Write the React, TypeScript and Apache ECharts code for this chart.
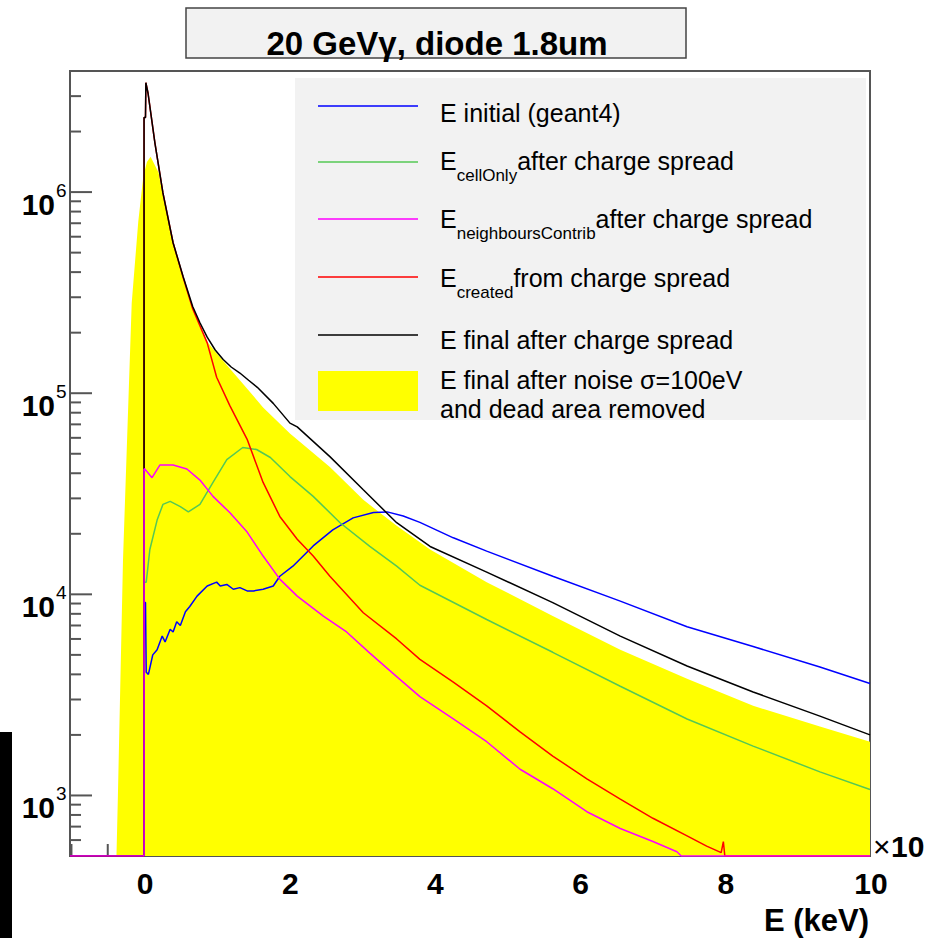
import React, { useEffect, useRef } from "react";
import * as echarts from "echarts";

// ---- axis ranges ----
const X_MIN = -1.02;
const X_MAX = 10;
const Y_MIN = 500;
const Y_MAX = 4e6;

// ---- tick values / labels ----
const xMajorTicks = [0, 2, 4, 6, 8, 10];
const xTickLabels = ["0", "2", "4", "6", "8", "10"];
const xMinorTicks = [-1, -0.5, 0.5, 1, 1.5, 2.5, 3, 3.5, 4.5, 5, 5.5, 6.5, 7, 7.5, 8.5, 9, 9.5];
const yMajorTicks = [1e3, 1e4, 1e5, 1e6];
const yTickExponents = ["3", "4", "5", "6"];
const yMinorTicks = [
  600, 700, 800, 900,
  2000, 3000, 4000, 5000, 6000, 7000, 8000, 9000,
  20000, 30000, 40000, 50000, 60000, 70000, 80000, 90000,
  200000, 300000, 400000, 500000, 600000, 700000, 800000, 900000,
  2000000, 3000000,
];

// ---- series data (x in axis units, y in counts) ----
const blueX = [-1.02, 0, 0, 0.02, 0.03, 0.06, 0.12, 0.18, 0.25, 0.29, 0.36, 0.4, 0.45, 0.5, 0.57, 0.63, 0.73, 0.87, 1.0, 1.05, 1.14, 1.23, 1.32, 1.42, 1.51, 1.64, 1.78, 1.87, 2.05, 2.33, 2.6, 2.88, 3.16, 3.35, 3.57, 3.8, 4.26, 4.72, 5.63, 6.56, 7.48, 8.39, 9.31, 10];
const blueY = [500, 500, 9100, 9100, 4100, 4000, 5000, 5300, 6200, 5800, 6700, 6500, 7300, 7000, 8200, 8700, 9800, 11000, 11500, 11000, 11200, 10600, 10800, 10400, 10400, 10600, 11000, 12300, 13800, 17400, 20900, 24000, 25500, 25700, 24500, 22800, 19100, 16400, 12300, 9250, 6900, 5500, 4350, 3600];

const greenX = [-1.02, 0, 0, 0.03, 0.08, 0.18, 0.26, 0.36, 0.5, 0.61, 0.77, 0.95, 1.14, 1.36, 1.55, 1.74, 2.01, 2.33, 2.7, 3.11, 3.48, 3.8, 4.72, 5.63, 6.56, 7.48, 8.39, 9.31, 10];
const greenY = [500, 500, 11500, 11500, 16700, 23400, 28000, 29000, 27300, 25700, 28000, 36000, 46800, 53700, 52500, 47900, 38500, 30700, 22700, 17300, 13800, 11100, 7500, 5150, 3490, 2400, 1760, 1310, 1070];

const magentaX = [-1.02, 0, 0, 0.01, 0.11, 0.22, 0.4, 0.59, 0.77, 0.95, 1.18, 1.42, 1.64, 1.87, 2.11, 2.47, 2.79, 3.11, 3.48, 3.8, 4.26, 4.72, 5.18, 5.63, 6.1, 6.56, 7.01, 7.34, 7.4, 10];
const magentaY = [500, 500, 42000, 42000, 38000, 44000, 44000, 42000, 37000, 30700, 25500, 20400, 15500, 11900, 9800, 7800, 6500, 5100, 3900, 3100, 2400, 1850, 1350, 1080, 830, 685, 590, 525, 500, 500];

const redX = [-1.02, 0, 0, 0.02, 0.025, 0.055, 0.15, 0.26, 0.4, 0.54, 0.67, 0.87, 1.0, 1.18, 1.42, 1.64, 1.87, 2.11, 2.33, 2.56, 3.02, 3.48, 3.8, 4.26, 4.72, 5.18, 5.63, 6.1, 6.56, 7.01, 7.48, 7.75, 7.95, 7.98, 8.0, 10];
const redY = [500, 500, 2350000, 2350000, 3500000, 3100000, 1750000, 990000, 560000, 375000, 263000, 178000, 120000, 87000, 59000, 36000, 24400, 18800, 15500, 12300, 8100, 6000, 4750, 3660, 2790, 2070, 1570, 1210, 960, 770, 630, 560, 520, 590, 500, 500];

const blackX = [-1.02, 0, 0, 0.02, 0.025, 0.055, 0.15, 0.26, 0.4, 0.54, 0.67, 0.77, 0.87, 0.98, 1.09, 1.2, 1.32, 1.44, 1.56, 1.78, 2.01, 2.11, 2.56, 3.02, 3.48, 3.94, 4.72, 5.63, 6.56, 7.48, 8.39, 9.31, 10];
const blackY = [500, 500, 2350000, 2350000, 3500000, 3100000, 1750000, 990000, 560000, 378000, 270000, 224000, 190000, 164000, 147000, 135000, 126000, 116000, 107000, 89000, 71000, 68000, 48400, 33100, 22700, 17300, 12900, 9100, 6200, 4400, 3270, 2480, 2000];

const yellowX = [-0.38, -0.36, -0.29, -0.17, -0.08, -0.01, 0.04, 0.09, 0.2, 0.26, 0.4, 0.54, 0.67, 0.87, 1.0, 1.32, 1.64, 2.01, 2.56, 3.02, 3.48, 3.94, 4.72, 5.63, 6.56, 7.48, 8.39, 9.31, 10];
const yellowY = [500, 1000, 14800, 280000, 710000, 1200000, 1410000, 1500000, 1250000, 960000, 550000, 370000, 265000, 180000, 158000, 116000, 85000, 63000, 43000, 29500, 21900, 16700, 11500, 7800, 5300, 3800, 2790, 2200, 1850];

// ---- texts ----
const titleText = "20 GeVγ, diode 1.8um";
const xAxisTitle = "E (keV)";
const xAxisMultiplier = "10";
const legendPre = ["E initial (geant4)", "E", "E", "E", "E final after charge spread", "E final after noise σ=100eV"];
const legendSub = ["", "cellOnly", "neighboursContrib", "created", "", ""];
const legendPost = ["", "after charge spread", "after charge spread", "from charge spread", "", ""];
const legendLine2 = ["", "", "", "", "", "and dead area removed"];

const FONT = '"Liberation Sans", Arial, Helvetica, sans-serif';

const zip = (xs: number[], ys: number[]) => xs.map((x, i) => [x, ys[i]]);

function measure(text: string, size: number, weight = "normal") {
  const c = document.createElement("canvas").getContext("2d");
  if (!c) return text.length * size * 0.5;
  c.font = `${weight} ${size}px ${FONT}`;
  return c.measureText(text).width;
}

function txt(text: string, x: number, y: number, size: number, weight: string, align: string, valign = "middle", fill = "#000") {
  return {
    type: "text",
    x,
    y,
    silent: true,
    style: {
      text,
      font: `${weight} ${size}px ${FONT}`,
      fill,
      align,
      textAlign: align,
      verticalAlign: valign,
      textVerticalAlign: valign,
    },
  };
}

export default function App() {
  const ref = useRef<HTMLDivElement>(null);

  useEffect(() => {
    if (!ref.current) return;
    const chart = echarts.init(ref.current, undefined, { renderer: "svg" });

    const lineSeries = (name: string, xs: number[], ys: number[], color: string, z: number) => ({
      name,
      type: "line",
      data: zip(xs, ys),
      showSymbol: false,
      symbol: "none",
      silent: true,
      z,
      lineStyle: { color, width: 1.5 },
      clip: true,
    });

    // legend graphic
    const legendColors = ["#0000ff", "#55c855", "#ff00ff", "#ff0000", "#000000"];
    const legendLineY = [106, 162, 219, 277, 335];
    const legendBaseline = [122, 170, 228, 287, 349, 389];
    const legendEls: any[] = [
      { type: "rect", shape: { x: 295, y: 78, width: 571, height: 342 }, style: { fill: "#f2f2f2" }, silent: true },
    ];
    legendColors.forEach((c, i) => {
      legendEls.push({
        type: "line",
        shape: { x1: 318, y1: legendLineY[i], x2: 418, y2: legendLineY[i] },
        style: { stroke: c, lineWidth: 1.5 },
        silent: true,
      });
    });
    legendEls.push({ type: "rect", shape: { x: 318, y: 371, width: 100, height: 40 }, style: { fill: "#ffff00" }, silent: true });
    legendPre.forEach((pre, i) => {
      const base = legendBaseline[i];
      const cy = base - 0.35 * 25;
      let x = 440;
      legendEls.push(txt(pre, x, cy, 25, "normal", "left"));
      x += measure(pre, 25);
      if (legendSub[i]) {
        legendEls.push(txt(legendSub[i], x, base + 11 - 0.35 * 17, 17, "normal", "left"));
        x += measure(legendSub[i], 17);
      }
      if (legendPost[i]) {
        legendEls.push(txt(legendPost[i], x, cy, 25, "normal", "left"));
      }
      if (legendLine2[i]) {
        legendEls.push(txt(legendLine2[i], 440, 418 - 0.35 * 25, 25, "normal", "left"));
      }
    });

    const option: any = {
      animation: false,
      backgroundColor: "#ffffff",
      grid: {
        left: 70,
        right: 68,
        top: 71,
        bottom: 82,
        show: true,
        borderColor: "#555555",
        borderWidth: 2,
        backgroundColor: "transparent",
      },
      xAxis: {
        type: "value",
        min: X_MIN,
        max: X_MAX,
        show: false,
      },
      yAxis: {
        type: "log",
        logBase: 10,
        min: Y_MIN,
        max: Y_MAX,
        show: false,
      },
      series: [
        {
          name: "E final after noise",
          type: "line",
          data: zip(yellowX, yellowY),
          showSymbol: false,
          symbol: "none",
          silent: true,
          z: 2,
          lineStyle: { width: 0, color: "#ffff00" },
          areaStyle: { color: "#ffff00", opacity: 1, origin: "start" },
        },
        lineSeries("E initial", blueX, blueY, "#0000ff", 3),
        lineSeries("E cellOnly", greenX, greenY, "#55c855", 3),
        lineSeries("E created", redX, redY, "#ff0000", 3),
        lineSeries("E final", blackX, blackY, "#000000", 3),
        lineSeries("E neighboursContrib", magentaX, magentaY, "#ff00ff", 3),
        {
          name: "yMajor",
          type: "custom",
          z: 1,
          silent: true,
          data: yMajorTicks.map((v) => [X_MIN, v]),
          renderItem: (params: any, api: any) => {
            const p = api.coord([api.value(0), api.value(1)]);
            return {
              type: "group",
              children: [
                { type: "line", shape: { x1: p[0], y1: p[1], x2: p[0] + 22, y2: p[1] }, style: { stroke: "#555555", lineWidth: 2 } },
                txt("10", p[0] - 15, p[1] + 12, 30, "bold", "right"),
                txt(yTickExponents[params.dataIndex], p[0] - 14, p[1] - 2, 19, "normal", "left"),
              ],
            };
          },
        },
        {
          name: "yMinor",
          type: "custom",
          z: 1,
          silent: true,
          data: yMinorTicks.map((v) => [X_MIN, v]),
          renderItem: (params: any, api: any) => {
            const p = api.coord([api.value(0), api.value(1)]);
            return { type: "line", shape: { x1: p[0], y1: p[1], x2: p[0] + 11, y2: p[1] }, style: { stroke: "#555555", lineWidth: 2 } };
          },
        },
        {
          name: "xMajor",
          type: "custom",
          z: 1,
          silent: true,
          data: xMajorTicks.map((v) => [v, Y_MIN]),
          renderItem: (params: any, api: any) => {
            const p = api.coord([api.value(0), api.value(1)]);
            return {
              type: "group",
              children: [
                { type: "line", shape: { x1: p[0], y1: p[1], x2: p[0], y2: p[1] - 22 }, style: { stroke: "#555555", lineWidth: 2 } },
                txt(xTickLabels[params.dataIndex], p[0] + 1, p[1] + 27, 30, "bold", "center"),
              ],
            };
          },
        },
        {
          name: "xMinor",
          type: "custom",
          z: 1,
          silent: true,
          data: xMinorTicks.map((v) => [v, Y_MIN]),
          renderItem: (params: any, api: any) => {
            const p = api.coord([api.value(0), api.value(1)]);
            return { type: "line", shape: { x1: p[0], y1: p[1], x2: p[0], y2: p[1] - 12 }, style: { stroke: "#555555", lineWidth: 2 } };
          },
        },
      ],
      graphic: [
        // black strip at the left edge of the picture
        { type: "rect", shape: { x: 0, y: 732, width: 12, height: 206 }, style: { fill: "#000000" }, silent: true, z: 10 },
        // title box
        { type: "rect", shape: { x: 186, y: 8, width: 500, height: 50 }, style: { fill: "#f2f2f2", stroke: "#444444", lineWidth: 1.5 }, silent: true, z: 10 },
        { ...txt(titleText, 437, 43, 33, "bold", "center"), z: 11 },
        // legend
        { type: "group", z: 20, children: legendEls },
        // axis title and multiplier
        { ...txt(xAxisTitle, 869, 920, 31, "bold", "right"), z: 11 },
        { ...txt("×", 873, 846, 30, "normal", "left"), z: 11 },
        { ...txt(xAxisMultiplier, 891, 846, 30, "bold", "left"), z: 11 },
      ],
    };

    chart.setOption(option);
    return () => chart.dispose();
  }, []);

  return (
    <div
      ref={ref}
      style={{ position: "fixed", left: 0, top: 0, width: 938, height: 938, background: "#fff" }}
    />
  );
}
